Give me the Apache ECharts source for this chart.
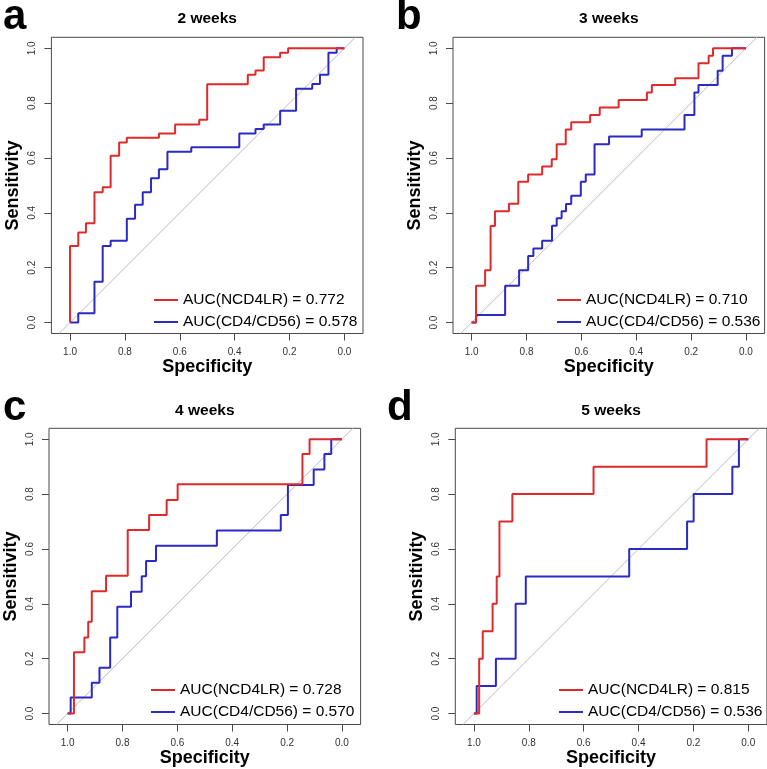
<!DOCTYPE html>
<html><head><meta charset="utf-8">
<script src="https://cdn.jsdelivr.net/npm/echarts@6/dist/echarts.min.js"></script>
<style>html,body{margin:0;padding:0;background:#fff}#c{width:767px;height:769px}</style>
</head><body><div id="c"></div>
<script>
// ---------- data ----------
const panelTitles = ['2 weeks', '3 weeks', '4 weeks', '5 weeks'];
const panelLetters = ['a', 'b', 'c', 'd'];
const redNames = ['AUC(NCD4LR) = 0.772', 'AUC(NCD4LR) = 0.710', 'AUC(NCD4LR) = 0.728', 'AUC(NCD4LR) = 0.815'];
const blueNames = ['AUC(CD4/CD56) = 0.578', 'AUC(CD4/CD56) = 0.536', 'AUC(CD4/CD56) = 0.570', 'AUC(CD4/CD56) = 0.536'];
const tickValues = [0, 0.2, 0.4, 0.6, 0.8, 1.0];
const tickLabels = ['0.0', '0.2', '0.4', '0.6', '0.8', '1.0'];
const diagSpec = [1.04, -0.04];
const diagSens = [-0.04, 1.04];

// panel a (2 weeks)
const aRedSpec = [1.0, 1.0, 0.970, 0.942, 0.911, 0.881, 0.852, 0.821, 0.793, 0.676, 0.617, 0.529, 0.500, 0.352, 0.324, 0.294, 0.234, 0.205, 0.0];
const aRedSens = [0, 0.279, 0.328, 0.362, 0.475, 0.493, 0.608, 0.656, 0.674, 0.689, 0.722, 0.739, 0.869, 0.903, 0.919, 0.967, 0.984, 1.0, 1.0];
const aBlueSpec = [1.0, 0.970, 0.911, 0.881, 0.852, 0.793, 0.763, 0.735, 0.705, 0.676, 0.645, 0.558, 0.383, 0.324, 0.294, 0.234, 0.176, 0.117, 0.089, 0.058, 0.028, 0.0];
const aBlueSens = [0, 0.034, 0.149, 0.279, 0.298, 0.378, 0.429, 0.475, 0.526, 0.559, 0.623, 0.639, 0.689, 0.706, 0.722, 0.772, 0.852, 0.870, 0.903, 0.984, 1.0, 1.0];
// panel b (3 weeks)
const bRedSpec = [1.0, 0.984, 0.951, 0.931, 0.915, 0.864, 0.830, 0.794, 0.743, 0.708, 0.690, 0.657, 0.637, 0.568, 0.533, 0.464, 0.361, 0.343, 0.258, 0.173, 0.136, 0.120, 0.0];
const bRedSens = [0, 0.134, 0.191, 0.352, 0.406, 0.433, 0.513, 0.540, 0.569, 0.595, 0.650, 0.704, 0.730, 0.757, 0.784, 0.811, 0.839, 0.866, 0.891, 0.945, 0.973, 1.0, 1.0];
const bBlueSpec = [1.0, 0.984, 0.878, 0.827, 0.794, 0.775, 0.743, 0.707, 0.690, 0.672, 0.656, 0.637, 0.602, 0.584, 0.552, 0.499, 0.380, 0.224, 0.188, 0.173, 0.103, 0.085, 0.051, 0.0];
const bBlueSens = [0, 0.027, 0.134, 0.191, 0.243, 0.270, 0.298, 0.353, 0.380, 0.406, 0.432, 0.462, 0.513, 0.540, 0.650, 0.678, 0.704, 0.757, 0.839, 0.866, 0.918, 0.973, 1.0, 1.0];
// panel c (4 weeks)
const cRedSpec = [1.0, 0.977, 0.939, 0.925, 0.912, 0.860, 0.781, 0.703, 0.639, 0.599, 0.144, 0.118, 0.0];
const cRedSens = [0, 0.223, 0.277, 0.335, 0.446, 0.502, 0.669, 0.724, 0.779, 0.836, 0.946, 1.0, 1.0];
const cBlueSpec = [1.0, 0.989, 0.912, 0.884, 0.845, 0.819, 0.769, 0.730, 0.714, 0.678, 0.456, 0.223, 0.197, 0.103, 0.064, 0.039, 0.0];
const cBlueSens = [0, 0.058, 0.112, 0.167, 0.277, 0.389, 0.444, 0.501, 0.556, 0.612, 0.667, 0.724, 0.833, 0.890, 0.946, 1.0, 1.0];
// panel d (5 weeks)
const dRedSpec = [1.0, 0.981, 0.968, 0.932, 0.917, 0.907, 0.860, 0.564, 0.152, 0.0];
const dRedSens = [0, 0.2, 0.3, 0.4, 0.5, 0.7, 0.8, 0.9, 1.0, 1.0];
const dBlueSpec = [1.0, 0.990, 0.920, 0.848, 0.811, 0.434, 0.223, 0.199, 0.058, 0.034, 0.0];
const dBlueSens = [0, 0.1, 0.2, 0.4, 0.5, 0.6, 0.7, 0.8, 0.9, 1.0, 1.0];

// ---------- layout & style ----------
const FONT = "'Liberation Sans', Arial, Helvetica, sans-serif";
const RED = '#e02a2a';
const BLUE = '#2a2ac4';
const gridPos = [
  { left: 51.4, top: 37.3 },
  { left: 453.0, top: 37.3 },
  { left: 49.0, top: 428.3 },
  { left: 455.3, top: 428.3 }
];
const GW = 311.6, GH = 296.2;
const legendPos = [
  { left: 154, top: 291 },
  { left: 557, top: 291 },
  { left: 151, top: 681 },
  { left: 559, top: 681 }
];
const titlePos = [
  { x: 207.2, y: 18.5 }, { x: 608.8, y: 18.5 }, { x: 204.8, y: 410.5 }, { x: 611.1, y: 410.5 }
];
const letterPos = [
  { x: 3, y: 17 }, { x: 396, y: 17 }, { x: 3, y: 408 }, { x: 387, y: 408 }
];

const reds = [[aRedSpec, aRedSens], [bRedSpec, bRedSens], [cRedSpec, cRedSens], [dRedSpec, dRedSens]];
const blues = [[aBlueSpec, aBlueSens], [bBlueSpec, bBlueSens], [cBlueSpec, cBlueSens], [dBlueSpec, dBlueSens]];
const zip = (xs, ys) => xs.map((x, i) => [x, ys[i]]);
const fmt = v => tickLabels[tickValues.findIndex(t => Math.abs(t - v) < 1e-9)];

const grids = [], xAxes = [], yAxes = [], series = [], legends = [], graphics = [];
for (let p = 0; p < 4; p++) {
  grids.push({ left: gridPos[p].left, top: gridPos[p].top, width: GW, height: GH,
    show: true, borderColor: '#4a4a4a', borderWidth: 1, backgroundColor: 'transparent' });
  xAxes.push({
    type: 'value', gridIndex: p, inverse: true, min: -0.068, max: 1.068, position: 'bottom',
    axisLine: { show: false, onZero: false }, splitLine: { show: false },
    axisTick: { show: true, inside: false, customValues: tickValues, length: 7, lineStyle: { color: '#4a4a4a' } },
    axisLabel: { customValues: tickValues, margin: 14, fontSize: 10, color: '#333', fontFamily: FONT, formatter: fmt },
    name: 'Specificity', nameLocation: 'middle', nameGap: 25,
    nameTextStyle: { fontSize: 18, fontWeight: 'bold', color: '#000', fontFamily: FONT }
  });
  yAxes.push({
    type: 'value', gridIndex: p, min: -0.04, max: 1.04, position: 'left',
    axisLine: { show: false, onZero: false }, splitLine: { show: false },
    axisTick: { show: true, inside: false, customValues: tickValues, length: 7, lineStyle: { color: '#4a4a4a' } },
    axisLabel: { customValues: tickValues, margin: 14, rotate: 90, fontSize: 10, color: '#333', fontFamily: FONT, formatter: fmt },
    name: 'Sensitivity', nameLocation: 'middle', nameGap: 29, nameRotate: 90,
    nameTextStyle: { fontSize: 18, fontWeight: 'bold', color: '#000', fontFamily: FONT }
  });
  series.push({
    type: 'line', xAxisIndex: p, yAxisIndex: p, data: zip(diagSpec, diagSens),
    showSymbol: false, silent: true, lineStyle: { color: '#bdbdbd', width: 1 }, z: 1
  });
  series.push({
    name: blueNames[p], type: 'line', xAxisIndex: p, yAxisIndex: p, step: 'end',
    data: zip(blues[p][0], blues[p][1]), showSymbol: false, color: BLUE,
    lineStyle: { color: BLUE, width: 2 }, z: 2
  });
  series.push({
    name: redNames[p], type: 'line', xAxisIndex: p, yAxisIndex: p, step: 'end',
    data: zip(reds[p][0], reds[p][1]), showSymbol: false, color: RED,
    lineStyle: { color: RED, width: 2 }, z: 3
  });
  legends.push({
    data: [redNames[p], blueNames[p]], orient: 'vertical', left: legendPos[p].left, top: legendPos[p].top,
    padding: 0, itemGap: 4, itemWidth: 24, itemHeight: 2, icon: 'rect', selectedMode: false,
    textStyle: { fontSize: 15.5, color: '#000', fontFamily: FONT, lineHeight: 18 }
  });
  graphics.push({ type: 'text', x: titlePos[p].x, y: titlePos[p].y,
    style: { text: panelTitles[p], font: 'bold 15.5px ' + FONT, fill: '#000', align: 'center', verticalAlign: 'middle' } });
  graphics.push({ type: 'text', x: letterPos[p].x, y: letterPos[p].y,
    style: { text: panelLetters[p], font: 'bold 42px ' + FONT, fill: '#000', align: 'left', verticalAlign: 'middle' } });
}

const chart = echarts.init(document.getElementById('c'), null, { renderer: 'canvas' });
chart.setOption({
  animation: false,
  backgroundColor: '#fff',
  textStyle: { fontFamily: FONT },
  grid: grids, xAxis: xAxes, yAxis: yAxes, series: series, legend: legends, graphic: graphics
});
</script>
</body></html>
